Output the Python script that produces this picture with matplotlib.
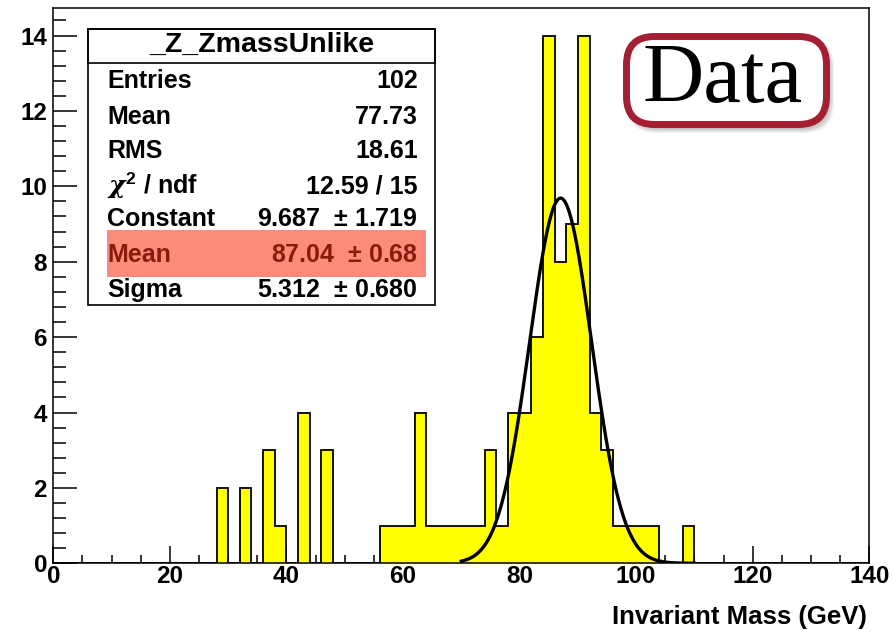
import numpy as np
import matplotlib
matplotlib.use("Agg")
import matplotlib.pyplot as plt
from matplotlib.patches import Rectangle, FancyBboxPatch
from matplotlib.transforms import Affine2D
from matplotlib.ticker import MultipleLocator

# histogram contents (2 GeV bins, only non-empty bins listed)
bin_lo = [28, 32, 36, 38, 42, 46, 56, 58, 60, 62, 64, 66, 68, 70, 72, 74, 76, 78,
          80, 82, 84, 86, 88, 90, 92, 94, 96, 98, 100, 102, 108]
counts = [2, 2, 3, 1, 4, 3, 1, 1, 1, 4, 1, 1, 1, 1, 1, 3, 1, 4,
          4, 6, 14, 8, 9, 14, 4, 3, 1, 1, 1, 1, 1]

# gaussian fit parameters from the stats box
fit_const = 9.687
fit_mean = 87.04
fit_sigma = 5.312
fit_range = (70, 110)

stat_names = ["Entries", "Mean", "RMS", r"$\chi^{2}$ / ndf", "Constant", "Mean", "Sigma"]
stat_values = ["102", "77.73", "18.61", "12.59 / 15", "9.687  $\\pm$ 1.719",
               "87.04  $\\pm$ 0.68", "5.312  $\\pm$ 0.680"]

W, H = 893, 633
plt.rcParams['font.family'] = ['Liberation Sans', 'DejaVu Sans']
plt.rcParams['font.weight'] = 'bold'
plt.rcParams['mathtext.fontset'] = 'custom'
plt.rcParams['mathtext.rm'] = 'Liberation Sans:bold'
plt.rcParams['mathtext.it'] = 'DejaVu Serif:italic'

fig = plt.figure(figsize=(W / 100, H / 100), dpi=100)
# pixel coordinates (top-left origin) -> figure
pix = Affine2D().scale(1 / W, -1 / H).translate(0, 1) + fig.transFigure

ax = fig.add_axes([53.3 / W, 1 - 563.3 / H, (869.3 - 53.3) / W, (563.3 - 8) / H])

edges = np.arange(0, 142, 2)
full = np.zeros(len(edges) - 1)
for lo, c in zip(bin_lo, counts):
    full[lo // 2] = c

ax.stairs(full, edges, fill=True, color='#ffff00', zorder=2)
ax.stairs(full, edges, fill=False, baseline=0, color='black', lw=1.3, zorder=3)

xf = np.linspace(fit_range[0], fit_range[1], 400)
yf = fit_const * np.exp(-0.5 * ((xf - fit_mean) / fit_sigma) ** 2)
ax.plot(xf, yf, color='black', lw=2.4, zorder=4)

ax.set_xlim(0, 140)
ax.set_ylim(0, 14.73)
ax.xaxis.set_major_locator(MultipleLocator(20))
ax.xaxis.set_minor_locator(MultipleLocator(5))
ax.yaxis.set_major_locator(MultipleLocator(2))
ax.yaxis.set_minor_locator(MultipleLocator(0.4))
ax.tick_params(axis='both', which='both', direction='in', width=1.1, labelsize=17.5)
ax.tick_params(axis='x', which='major', length=12, pad=1)
ax.tick_params(axis='x', which='minor', length=6)
ax.tick_params(axis='y', which='major', length=17, pad=4.5)
ax.tick_params(axis='y', which='minor', length=9)
for s in ax.spines.values():
    s.set_linewidth(1.1)

fig.text(866.7, 616.7, "Invariant Mass (GeV)", transform=pix, ha='right', va='center',
         fontsize=18.5, fontweight='bold')

# stats box
fig.add_artist(Rectangle((88.3, 29.3), 435 - 88.3, 305 - 29.3, transform=pix,
                         facecolor='white', edgecolor='black', lw=1.2, zorder=5))
fig.add_artist(Rectangle((88.3, 29.3), 435 - 88.3, 62.7 - 29.3, transform=pix,
                         facecolor='none', edgecolor='black', lw=1.2, zorder=6))
fig.add_artist(Rectangle((107, 230), 426 - 107, 277 - 230, transform=pix,
                         facecolor='#fb8c7b', edgecolor='none', zorder=6))
fig.text(261.5, 45, "_Z_ZmassUnlike", transform=pix, ha='center', va='center',
         fontsize=20.5, zorder=7)
row_y = [81.3, 116.5, 151.5, 186, 219, 255, 290]
for i, (name, val) in enumerate(zip(stat_names, stat_values)):
    col = '#8c1a0c' if i == 5 else 'black'
    fig.text(107, row_y[i], name, transform=pix, ha='left', va='center',
             fontsize=18, color=col, zorder=7)
    fig.text(418, row_y[i], val, transform=pix, ha='right', va='center',
             fontsize=18, color=col, zorder=7)

# "Data" label box with soft shadow
for k in range(6):
    fig.add_artist(FancyBboxPatch((627 + 3 + k * 0.4, 37 + 4 + k * 0.4), 200 - k * 0.8, 88 - k * 0.8,
                                  boxstyle="round,pad=%g,rounding_size=30" % (4 - k * 0.6),
                                  transform=pix, facecolor='black', edgecolor='none',
                                  alpha=0.05, zorder=5))
fig.add_artist(FancyBboxPatch((626.5, 36.5), 200, 88, boxstyle="round,pad=0,rounding_size=28",
                              transform=pix, facecolor='white', edgecolor='#a41f33',
                              lw=5.0, zorder=6))
fig.text(723, 102, "Data", transform=pix, ha='center', va='baseline',
         fontsize=61, fontweight='normal', family=['Liberation Serif'], zorder=7)

fig.savefig("out.png", dpi=100)
